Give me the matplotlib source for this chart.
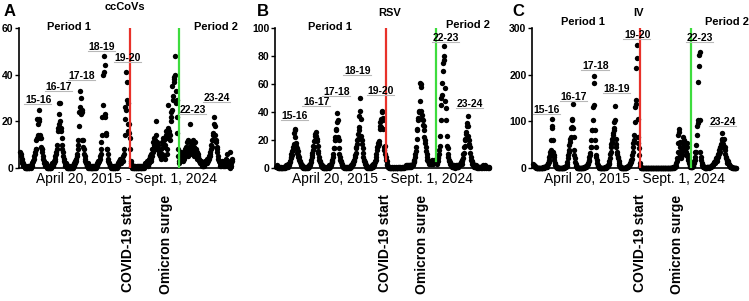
import numpy as np
import matplotlib
matplotlib.use("Agg")
import matplotlib.pyplot as plt
from matplotlib.lines import Line2D
from matplotlib.transforms import IdentityTransform, blended_transform_factory

plt.rcParams["font.family"] = ["Liberation Sans", "DejaVu Sans"]
plt.rcParams["font.weight"] = "bold"

# weekly positives, one row per surveillance year (Apr 20, 2015 - Sept 1, 2024)
cccov = [
    7, 6, 5, 4, 3, 2, 2, 1, 1, 1, 0, 1, 0, 0, 1, 0, 0, 1, 0, 0, 1, 0, 1, 1, 0, 1, 1, 2, 2, 3,
    3, 4, 5, 6, 7, 8, 8, 12, 21, 13, 14, 19, 25, 20, 21, 13, 14, 9, 13, 8, 8, 7,
    5, 4, 3, 2, 2, 1, 1, 2, 1, 0, 1, 0, 0, 1, 0, 1, 0, 0, 1, 0, 1, 1, 2, 1, 2, 3, 2, 3, 4, 5,
    6, 7, 8, 10, 16, 17, 23, 28, 19, 28, 20, 17, 16, 13, 10, 8, 7, 5, 4, 3, 2, 2,
    1, 2, 1, 0, 1, 0, 0, 1, 0, 1, 0, 0, 1, 0, 0, 1, 1, 0, 1, 2, 1, 2, 3, 2, 3, 4, 5, 6, 8, 10,
    12, 18, 24, 26, 33, 30, 23, 25, 24, 12, 12, 9, 8, 6, 5, 4, 3, 2, 2, 1, 1, 2,
    1, 0, 1, 0, 0, 1, 0, 0, 1, 0, 0, 1, 0, 1, 0, 0, 1, 1, 0, 1, 2, 1, 2, 3, 2, 3, 3, 4, 5, 6,
    8, 11, 14, 22, 27, 40, 41, 48, 44, 23, 22, 15, 14, 8, 8, 6, 4, 3, 2, 2, 1, 1,
    1, 0, 1, 0, 1, 0, 0, 1, 0, 0, 1, 0, 1, 1, 0, 1, 2, 1, 2, 3, 2, 3, 4, 3, 2, 3, 4, 3, 3, 5,
    6, 8, 14, 21, 26, 25, 41, 37, 29, 28, 19, 16, 19, 15, 13, 8, 3, 2, 1, 1, 0, 1,
    0, 1, 0, 0, 1, 0, 0, 0, 1, 0, 0, 1, 0, 0, 1, 1, 0, 0, 1, 0, 0, 1, 0, 1, 1, 0, 1, 2, 1, 2,
    1, 2, 3, 2, 1, 3, 2, 4, 3, 5, 3, 6, 4, 5, 8, 7, 11, 9, 13, 10, 12, 8,
    14, 20, 11, 9, 8, 10, 8, 6, 7, 5, 6, 4, 5, 8, 6, 11, 10, 13, 9, 5, 12, 4, 10, 16, 14, 13, 8, 6, 17, 27,
    15, 16, 12, 14, 24, 20, 22, 35, 25, 31, 29, 37, 39, 38, 48, 40, 33, 28, 29, 22, 15, 8,
    5, 3, 2, 4, 5, 3, 7, 4, 6, 5, 3, 5, 7, 4, 6, 8, 5, 7, 9, 6, 11, 8, 5, 12, 7, 9, 19, 6, 11, 9,
    8, 7, 10, 12, 6, 9, 5, 8, 11, 7, 6, 8, 5, 7, 4, 6, 5, 3, 4, 3, 2, 3,
    2, 3, 1, 2, 1, 2, 1, 1, 2, 3, 2, 3, 2, 4, 3, 2, 4, 3, 5, 4, 5, 6, 7, 8, 10, 12, 9, 14, 12, 15,
    19, 22, 18, 14, 12, 11, 9, 8, 7, 5, 4, 3, 3, 2, 2, 1, 2, 1, 2, 3, 2, 1,
    2, 1, 3, 2, 1, 2, 4, 2, 6, 1, 2, 3, 1, 2, 7, 1, 0, 2, 1, 3, 4,
]

rsv = [
    1, 2, 1, 1, 0, 1, 0, 0, 1, 0, 0, 1, 0, 0, 0, 1, 0, 1, 0, 1, 1, 0, 1, 2, 1, 2, 1, 2, 3, 2,
    3, 4, 5, 7, 8, 10, 9, 12, 15, 13, 17, 25, 28, 27, 22, 18, 16, 14, 11, 12, 9, 8,
    6, 8, 5, 4, 3, 3, 2, 2, 1, 1, 0, 1, 0, 0, 1, 0, 1, 0, 0, 1, 0, 1, 1, 2, 1, 2, 3, 4, 6, 8,
    9, 11, 13, 16, 15, 19, 20, 23, 24, 26, 23, 21, 19, 16, 12, 11, 8, 6, 5, 4, 3, 2,
    1, 2, 1, 0, 1, 0, 0, 1, 0, 1, 0, 0, 1, 0, 1, 1, 0, 1, 2, 1, 2, 3, 2, 4, 5, 6, 8, 10, 14, 14,
    20, 22, 20, 27, 28, 33, 39, 34, 22, 20, 14, 10, 8, 6, 5, 4, 3, 2, 2, 1, 1, 1,
    0, 1, 0, 1, 0, 0, 1, 0, 0, 1, 0, 1, 1, 0, 1, 2, 1, 2, 3, 2, 3, 4, 5, 6, 8, 9, 11, 14, 15, 17,
    20, 21, 24, 27, 29, 37, 41, 50, 35, 23, 20, 17, 14, 11, 8, 6, 5, 4, 3, 2, 2, 1,
    1, 0, 1, 0, 1, 0, 0, 1, 1, 0, 1, 1, 2, 1, 2, 3, 2, 3, 5, 4, 6, 8, 10, 13, 15, 16, 18, 19, 17, 28,
    30, 33, 29, 35, 40, 41, 36, 34, 28, 15, 13, 16, 10, 8, 6, 5, 3, 2, 1, 1, 0, 1,
    0, 0, 1, 0, 0, 0, 1, 0, 0, 0, 1, 0, 0, 0, 1, 0, 0, 0, 0, 1, 0, 0, 1, 0, 0, 1, 0, 0, 1, 0,
    1, 0, 1, 1, 0, 1, 1, 2, 1, 1, 2, 1, 2, 1, 2, 1, 2, 1, 2, 1, 2, 2,
    2, 3, 2, 4, 5, 6, 8, 10, 12, 15, 21, 27, 28, 34, 36, 41, 40, 48, 61, 60, 58, 41, 38, 35, 34, 31, 30, 27, 22, 20,
    18, 15, 12, 10, 8, 6, 5, 5, 4, 3, 4, 5, 3, 4, 5, 6, 4, 5, 3, 4, 5, 6,
    5, 4, 6, 5, 3, 4, 5, 7, 8, 10, 13, 16, 23, 34, 45, 50, 52, 61, 69, 75, 77, 80, 87, 57, 48, 43, 34, 23, 16, 14,
    10, 8, 6, 5, 4, 3, 3, 2, 2, 1, 2, 1, 1, 2, 1, 1, 0, 1, 1, 2, 1, 2,
    1, 2, 1, 2, 2, 3, 2, 3, 4, 3, 5, 6, 7, 10, 11, 15, 16, 20, 21, 24, 26, 30, 32, 30, 37, 23, 20, 17, 15, 11,
    8, 6, 5, 4, 3, 3, 2, 2, 1, 2, 1, 1, 2, 1, 0, 1, 1, 0, 1, 1, 0, 1,
    1, 0, 1, 1, 0, 1, 2, 1, 1, 0, 1, 1, 2, 1, 0, 1, 1, 0, 1, 1, 0,
]

flu = [
    8, 6, 5, 4, 3, 2, 2, 1, 1, 1, 0, 1, 0, 0, 1, 0, 0, 1, 0, 0, 1, 1, 0, 1, 2, 1, 2, 3, 2, 3,
    3, 4, 3, 5, 6, 8, 10, 12, 17, 24, 28, 35, 38, 60, 85, 89, 106, 60, 35, 28, 24, 17,
    10, 6, 4, 3, 2, 2, 1, 1, 1, 0, 1, 0, 0, 1, 0, 1, 0, 0, 1, 1, 0, 1, 2, 1, 2, 3, 4, 3, 5, 8,
    12, 21, 28, 35, 38, 49, 56, 63, 67, 85, 88, 103, 106, 138, 85, 67, 38, 28, 21, 12, 8, 5,
    3, 2, 1, 1, 0, 1, 0, 0, 1, 0, 1, 0, 0, 1, 0, 1, 1, 2, 1, 2, 2, 3, 2, 4, 3, 5, 6, 8, 10, 14,
    17, 24, 28, 32, 45, 46, 60, 81, 81, 103, 131, 135, 183, 197, 81, 60, 46, 28, 24, 17, 10, 6,
    4, 3, 2, 1, 1, 0, 1, 0, 0, 1, 0, 1, 0, 1, 1, 0, 1, 2, 1, 2, 3, 4, 3, 5, 6, 8, 10, 14, 21, 31,
    35, 46, 51, 56, 63, 71, 74, 81, 85, 99, 103, 133, 63, 51, 46, 35, 31, 24, 21, 14, 10, 6,
    4, 3, 2, 1, 1, 0, 1, 0, 1, 0, 0, 1, 1, 0, 1, 2, 1, 2, 3, 4, 3, 5, 4, 6, 8, 10, 12, 15, 17, 20,
    28, 35, 46, 53, 60, 70, 99, 131, 138, 146, 214, 236, 264, 106, 67, 53, 42, 28, 10, 4, 2, 1,
    0, 0, 1, 0, 0, 0, 0, 1, 0, 0, 0, 0, 0, 1, 0, 0, 0, 0, 0, 0, 1, 0, 0, 0, 0, 0, 1, 0, 0, 0,
    0, 0, 0, 0, 1, 0, 0, 0, 0, 0, 0, 1, 0, 0, 0, 0, 0, 1, 0, 0, 0, 0,
    0, 0, 1, 0, 0, 0, 1, 0, 0, 1, 0, 0, 0, 1, 0, 1, 0, 1, 1, 0, 1, 0, 1, 2, 1, 2, 1, 3, 2, 4,
    3, 5, 10, 21, 14, 35, 53, 70, 83, 78, 56, 46, 28, 35, 21, 28, 39, 46, 53, 67, 46, 60,
    53, 39, 46, 28, 35, 53, 46, 28, 17, 21, 14, 10, 6, 4, 3, 2, 3, 2, 3, 5, 4, 8, 10, 14, 17, 24, 35, 35, 49, 71,
    89, 96, 103, 184, 218, 242, 249, 103, 35, 24, 17, 10, 6, 5, 4, 3, 2, 2, 1, 2, 1, 1,
    1, 2, 1, 2, 3, 2, 1, 2, 3, 2, 3, 4, 3, 5, 4, 6, 8, 7, 10, 12, 10, 14, 12, 17, 21, 14, 21, 24, 31, 24,
    31, 39, 42, 46, 35, 51, 46, 60, 63, 74, 51, 60, 63, 42, 46, 39, 31, 24, 21, 14, 17, 10,
    14, 10, 8, 6, 5, 4, 3, 3, 2, 2, 1, 2, 1, 1, 0, 1, 1, 0, 1, 0, 1,
]

series = [cccov, rsv, flu]
titles = ["ccCoVs", "RSV", "IV"]
letters = ["A", "B", "C"]
ymax = [60, 100, 300]
yticks = [[0, 20, 40, 60], [0, 20, 40, 60, 80, 100], [0, 100, 200, 300]]
covid_week = [253, 252, 257]
omicron_week = [366, 366, 379]
seasons = ["15-16", "16-17", "17-18", "18-19", "19-20", "22-23", "23-24"]
season_pos = [
    [(41, 29), (89, 34.7), (142, 39.4), (188, 52), (248, 47), (398, 25), (453, 30)],
    [(43, 37), (93, 47), (139, 54), (187, 69), (240, 55), (389, 93), (444, 46)],
    [(33, 124), (98, 152), (149, 219), (201, 169), (250, 285), (401, 279), (456, 99)],
]
period_pos = [[(112, 60.4), (451, 60.4)], [(123, 101), (440, 102)], [(120, 313), (466, 313)]]
covid_text_x = [249, 249, 257]
omicron_text_x = [336, 334, 346]

rects = [
    [0.0254, 0.4419, 0.2857, 0.4651],
    [0.367, 0.4419, 0.287, 0.4651],
    [0.7103, 0.4419, 0.2737, 0.4651],
]
title_xy = [(125, 7), (390, 13), (638, 13)]
letter_x = [4, 257, 512]

fig = plt.figure(figsize=(7.49, 3.01), dpi=100)
season_texts = []

for i, vals in enumerate(series):
    ax = fig.add_axes(rects[i])
    weeks = np.arange(len(vals))
    ax.scatter(weeks, vals, s=15, c="black", linewidths=0, clip_on=False, zorder=3)

    ax.set_xlim(-3, 490)
    ax.set_ylim(0, ymax[i])
    ax.set_yticks(yticks[i])
    ax.set_xticks([])
    for side in ["top", "right"]:
        ax.spines[side].set_visible(False)
    for side in ["left", "bottom"]:
        ax.spines[side].set_linewidth(1.2)
    ax.tick_params(axis="y", length=3, width=1, labelsize=7.5, pad=1)

    lo = 5 if i == 1 else 0
    ax.plot([covid_week[i]] * 2, [lo, ymax[i]], color="#e8312a", lw=1.6, zorder=4)
    ax.plot([omicron_week[i]] * 2, [lo, ymax[i]], color="#3ddc3d", lw=1.6, zorder=4)

    ax.set_xlabel("April 20, 2015 - Sept. 1, 2024", fontsize=10, fontweight="normal", labelpad=3)

    trans = blended_transform_factory(ax.transData, ax.transAxes)
    ax.text(covid_text_x[i], -0.19, "COVID-19 start", transform=trans, rotation=90,
            ha="center", va="top", fontsize=10)
    ax.text(omicron_text_x[i], -0.19, "Omicron surge", transform=trans, rotation=90,
            ha="center", va="top", fontsize=10)

    for name, (x, y) in zip(seasons, season_pos[i]):
        season_texts.append(ax.text(x, y, name, ha="center", va="center", fontsize=7.5,
                                    clip_on=False, zorder=5))
    for name, (x, y) in zip(["Period 1", "Period 2"], period_pos[i]):
        ax.text(x, y, name, ha="center", va="center", fontsize=8, clip_on=False)

    fig.text(title_xy[i][0] / 749, 1 - title_xy[i][1] / 301, titles[i],
             ha="center", va="center", fontsize=8)
    fig.text(letter_x[i] / 749, 1 - 11 / 301, letters[i], ha="left", va="center", fontsize=12)

# grey underline beneath each season label
fig.canvas.draw()
renderer = fig.canvas.get_renderer()
for t in season_texts:
    bb = t.get_window_extent(renderer)
    fig.add_artist(Line2D([bb.x0 - 1, bb.x1], [bb.y0 + 1, bb.y0 + 1],
                          transform=IdentityTransform(), color="#b8b8b8", lw=0.8))

fig.savefig("out.png", dpi=100)
plt.close(fig)
